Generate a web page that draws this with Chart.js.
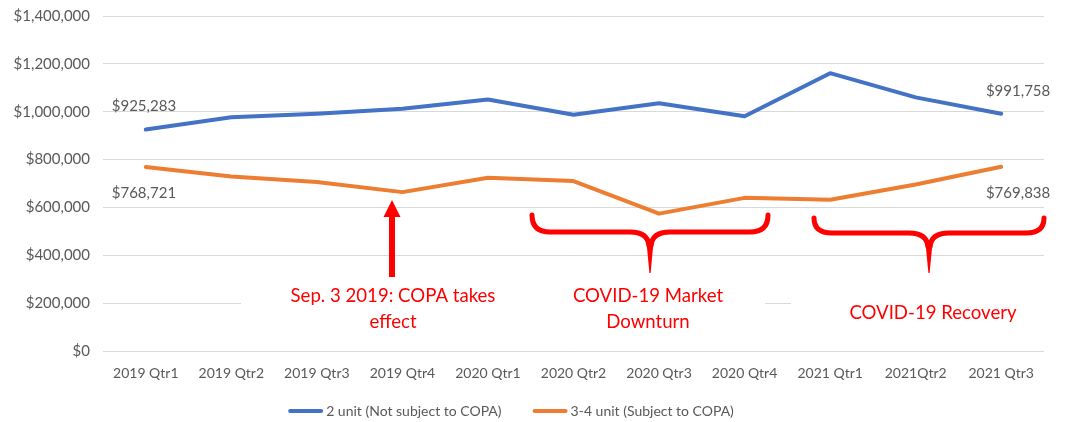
<!DOCTYPE html>
<html><head><meta charset="utf-8">
<script src="https://cdn.jsdelivr.net/npm/chart.js@4.4.0/dist/chart.umd.min.js"></script>
<style>html,body{margin:0;padding:0;background:#fff;overflow:hidden}</style>
</head><body>
<canvas id="c" width="1069" height="422" style="display:block;width:1069px;height:422px"></canvas>
<script>
const categories = ['2019 Qtr1','2019 Qtr2','2019 Qtr3','2019 Qtr4','2020 Qtr1','2020 Qtr2','2020 Qtr3','2020 Qtr4','2021 Qtr1','2021Qtr2','2021 Qtr3'];
const twoUnit = [925283, 977000, 991000, 1012000, 1051000, 987000, 1035000, 981000, 1161000, 1060000, 991758];
const threeFourUnit = [768721, 729000, 706000, 664000, 724000, 710000, 574000, 640000, 632000, 696000, 769838];
const seriesNames = ['2 unit (Not subject to COPA)', '3-4 unit (Subject to COPA)'];
const seriesColors = ['#4472C4', '#ED7D31'];
const yTickValues = [0, 200000, 400000, 600000, 800000, 1000000, 1200000, 1400000];
const noteCopa = ['Sep. 3 2019: COPA takes', 'effect'];
const noteDownturn = ['COVID-19 Market', 'Downturn'];
const noteRecovery = ['COVID-19 Recovery'];

const FONT = 'Lato, "Open Sans", sans-serif';
const money = v => '$' + Math.round(v).toLocaleString('en-US');

const annotationPlugin = {
  id: 'annots',
  beforeDatasetsDraw(chart) {
    const ctx = chart.ctx, y = chart.scales.y;
    const y200 = y.getPixelForValue(200000);
    ctx.save();
    ctx.fillStyle = '#fff';
    ctx.fillRect(241, y200 - 3, 524, 6);
    ctx.fillRect(791, y200 - 3, 270, 6);
    ctx.restore();
  },
  afterDatasetsDraw(chart) {
    const ctx = chart.ctx;
    ctx.save();
    // end-point value labels
    ctx.font = '15px ' + FONT;
    ctx.fillStyle = '#595959';
    ctx.textBaseline = 'middle';
    const m0 = chart.getDatasetMeta(0).data, m1 = chart.getDatasetMeta(1).data;
    const last = m0.length - 1;
    ctx.textAlign = 'left';
    ctx.fillText(money(twoUnit[0]), m0[0].x - 34, m0[0].y - 23);
    ctx.fillText(money(threeFourUnit[0]), m1[0].x - 34, m1[0].y + 26);
    ctx.textAlign = 'right';
    ctx.fillText(money(twoUnit[last]), m0[last].x + 49, m0[last].y - 23);
    ctx.fillText(money(threeFourUnit[last]), m1[last].x + 49, m1[last].y + 26);

    // red arrow
    ctx.fillStyle = '#FF0000';
    ctx.strokeStyle = '#FF0000';
    ctx.fillRect(389, 216, 6, 61);
    ctx.beginPath();
    ctx.moveTo(392, 200); ctx.lineTo(400.5, 217); ctx.lineTo(383.5, 217); ctx.closePath(); ctx.fill();

    // braces
    function brace(x0, x1, yTop, yMid, xc, yTip) {
      ctx.lineWidth = 5;
      ctx.lineCap = 'round';
      ctx.lineJoin = 'round';
      const r = 18;
      ctx.beginPath();
      ctx.moveTo(x0, yTop);
      ctx.quadraticCurveTo(x0, yMid, x0 + r, yMid);
      ctx.lineTo(xc - 20, yMid);
      ctx.quadraticCurveTo(xc - 2, yMid, xc - 1, yMid + 14);
      ctx.stroke();
      ctx.beginPath();
      ctx.moveTo(x1, yTop);
      ctx.quadraticCurveTo(x1, yMid, x1 - r, yMid);
      ctx.lineTo(xc + 20, yMid);
      ctx.quadraticCurveTo(xc + 2, yMid, xc + 1, yMid + 14);
      ctx.stroke();
      ctx.beginPath();
      ctx.moveTo(xc - 3.5, yMid + 10);
      ctx.lineTo(xc + 3.5, yMid + 10);
      ctx.lineTo(xc + 0.6, yTip);
      ctx.lineTo(xc - 0.6, yTip);
      ctx.closePath();
      ctx.fill();
    }
    brace(532, 768, 215, 232, 650, 273);
    brace(814, 1044, 218, 233, 929, 273);

    // annotation text
    ctx.font = '18.6px ' + FONT;
    ctx.textAlign = 'center';
    ctx.textBaseline = 'middle';
    ctx.fillStyle = '#FF0000';
    noteCopa.forEach((t, i) => ctx.fillText(t, 393, 296 + i * 26));
    noteDownturn.forEach((t, i) => ctx.fillText(t, 648, 296 + i * 26));
    noteRecovery.forEach((t, i) => ctx.fillText(t, 933, 313 + i * 26));
    ctx.restore();
  },
  afterDraw(chart) {
    const ctx = chart.ctx;
    ctx.save();
    ctx.font = '14px ' + FONT;
    ctx.textBaseline = 'middle';
    ctx.textAlign = 'left';
    const ds = chart.data.datasets;
    const sw = 35, gapT = 3, gapItem = 31;
    const widths = ds.map(d => ctx.measureText(d.label).width);
    let total = 0;
    widths.forEach((w, i) => { total += sw + gapT + w + (i ? gapItem : 0); });
    let x = 511 - total / 2;
    const y = 411;
    ds.forEach((d, i) => {
      ctx.strokeStyle = d.borderColor;
      ctx.lineWidth = 4;
      ctx.lineCap = 'round';
      ctx.beginPath(); ctx.moveTo(x + 2, y); ctx.lineTo(x + sw - 2, y); ctx.stroke();
      ctx.fillStyle = '#595959';
      ctx.fillText(d.label, x + sw + gapT, y);
      x += sw + gapT + widths[i] + gapItem;
    });
    ctx.restore();
  }
};

new Chart(document.getElementById('c'), {
  type: 'line',
  data: {
    labels: categories,
    datasets: [
      { label: seriesNames[0], data: twoUnit, borderColor: seriesColors[0], backgroundColor: seriesColors[0], borderWidth: 4, pointRadius: 0, tension: 0, borderCapStyle: 'round', borderJoinStyle: 'round' },
      { label: seriesNames[1], data: threeFourUnit, borderColor: seriesColors[1], backgroundColor: seriesColors[1], borderWidth: 4, pointRadius: 0, tension: 0, borderCapStyle: 'round', borderJoinStyle: 'round' }
    ]
  },
  options: {
    responsive: false,
    animation: false,
    devicePixelRatio: 1,
    layout: { padding: { top: 16, right: 25, bottom: 40, left: 0 } },
    plugins: { legend: { display: false }, tooltip: { enabled: false } },
    scales: {
      x: {
        offset: true,
        grid: { display: false, drawTicks: false },
        border: { display: false },
        ticks: { color: '#595959', font: { family: FONT, size: 14 }, padding: 14, maxRotation: 0, autoSkip: false },
        afterFit: s => { s.height = 31; }
      },
      y: {
        min: 0, max: 1400000,
        afterBuildTicks: s => { s.ticks = yTickValues.map(v => ({ value: v })); },
        grid: { color: '#D9D9D9', lineWidth: 1, drawTicks: false },
        border: { display: false },
        ticks: { color: '#595959', font: { family: FONT, size: 15 }, padding: 13, callback: v => money(v) },
        afterFit: s => { s.width = 103; s.paddingTop = 0; }
      }
    }
  },
  plugins: [annotationPlugin]
});
</script>
</body></html>
